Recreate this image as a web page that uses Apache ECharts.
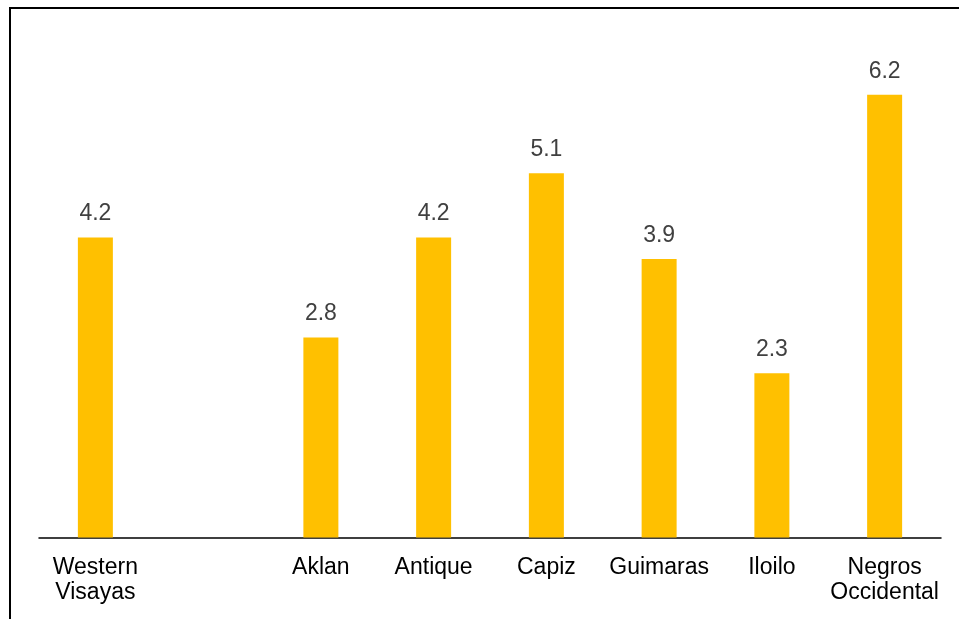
<!DOCTYPE html>
<html>
<head>
<meta charset="utf-8">
<script src="https://cdn.jsdelivr.net/npm/echarts@6/dist/echarts.min.js"></script>
<style>html,body{margin:0;padding:0;background:#fff;}#c{width:959px;height:619px;}</style>
</head>
<body>
<div id="c"></div>
<script>
const categories = ['Western\nVisayas', '', 'Aklan', 'Antique', 'Capiz', 'Guimaras', 'Iloilo', 'Negros\nOccidental'];
const values = [4.2, null, 2.8, 4.2, 5.1, 3.9, 2.3, 6.2];

const FONT = '"Liberation Sans", Arial, sans-serif';
const chart = echarts.init(document.getElementById('c'), null, {renderer: 'canvas'});
chart.setOption({
  animation: false,
  backgroundColor: '#ffffff',
  graphic: [
    {type: 'line', shape: {x1: 9, y1: 8, x2: 960, y2: 8}, style: {stroke: '#000', lineWidth: 2}},
    {type: 'line', shape: {x1: 10, y1: 7, x2: 10, y2: 620}, style: {stroke: '#000', lineWidth: 2}}
  ],
  grid: {left: 39, right: 18, top: 37.7, bottom: 81.5, containLabel: false},
  xAxis: {
    type: 'category',
    data: categories,
    axisLine: {lineStyle: {color: '#000', width: 1.5}},
    axisTick: {show: false},
    axisLabel: {color: '#000', fontSize: 23, fontFamily: FONT, lineHeight: 25, margin: 18, interval: 0}
  },
  yAxis: {
    type: 'value', min: 0, max: 7, show: false,
    splitLine: {show: false}
  },
  series: [{
    type: 'bar',
    data: values,
    barWidth: 35,
    itemStyle: {color: '#FFC000'},
    label: {show: true, position: 'top', distance: 12, color: '#404040', fontSize: 23, fontFamily: FONT,
      formatter: p => p.value.toFixed(1)}
  }]
});
</script>
</body>
</html>
